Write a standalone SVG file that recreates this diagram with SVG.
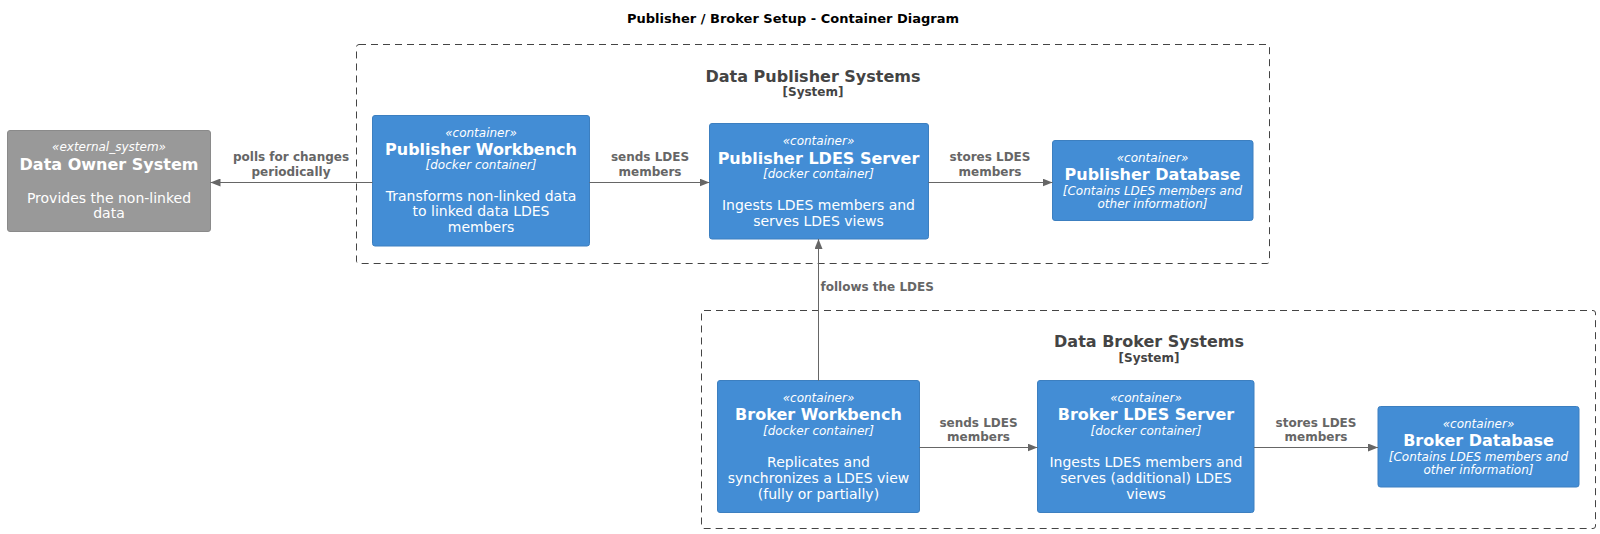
<svg xmlns="http://www.w3.org/2000/svg" width="1600" height="534" viewBox="0 0 1600 534">
<defs>
<marker id="arr" viewBox="0 0 10 8" refX="10" refY="4" markerWidth="10" markerHeight="8" markerUnits="userSpaceOnUse" orient="auto">
<path d="M0,0 L10,4 L0,8 Z" fill="#666666"/>
</marker>
<style>
text{font-family:"DejaVu Sans","Noto Sans",sans-serif;text-anchor:middle}
.title{font-size:13px;font-weight:bold;fill:#000}
.bnd{fill:none;stroke:#444444;stroke-width:1;stroke-dasharray:7,5}
.bt{font-size:16px;font-weight:bold;fill:#444444}
.bs{font-size:12px;font-weight:bold;fill:#444444}
.cont{fill:#438DD5;stroke:#3C7FC0;stroke-width:1}
.ext{fill:#999999;stroke:#8A8A8A;stroke-width:1}
.st{font-size:12px;font-style:italic;fill:#FFFFFF}
.nm{font-size:16px;font-weight:bold;fill:#FFFFFF}
.ds{font-size:14px;fill:#FFFFFF}
.tc{font-size:12px;font-style:italic;fill:#FFFFFF}
.edge{stroke:#666666;stroke-width:1;fill:none;marker-end:url(#arr)}
.el{font-size:12px;font-weight:bold;fill:#666666}
</style>
</defs>
<rect width="1600" height="534" fill="#FFFFFF"/>
<text class="title" x="793" y="23">Publisher / Broker Setup - Container Diagram</text>

<g id="publisher_systems">
<rect class="bnd" x="356.5" y="44.5" width="913" height="219" rx="2.5"/>
<text class="bt" x="813" y="82">Data Publisher Systems</text>
<text class="bs" x="813" y="96">[System]</text>
</g>

<g id="broker_systems">
<rect class="bnd" x="701.5" y="310.5" width="894" height="218" rx="2.5"/>
<text class="bt" x="1149" y="347">Data Broker Systems</text>
<text class="bs" x="1149" y="362">[System]</text>
</g>

<g id="data_owner">
<rect class="ext" x="7.5" y="130.5" width="203" height="101" rx="2.5"/>
<text class="st" x="109" y="151">«external_system»</text>
<text class="nm" x="109" y="169.5">Data Owner System</text>
<text class="ds" x="109" y="202.5">Provides the non-linked</text>
<text class="ds" x="109" y="218">data</text>
</g>

<g id="publisher_workbench">
<rect class="cont" x="372.5" y="115.5" width="217" height="130.5" rx="2.5"/>
<text class="st" x="481" y="136.5">«container»</text>
<text class="nm" x="481" y="154.5">Publisher Workbench</text>
<text class="tc" x="481" y="168.5">[docker container]</text>
<text class="ds" x="481" y="200.5">Transforms non-linked data</text>
<text class="ds" x="481" y="216">to linked data LDES</text>
<text class="ds" x="481" y="232">members</text>
</g>

<g id="publisher_ldes_server">
<rect class="cont" x="709.5" y="123.5" width="219" height="115.5" rx="2.5"/>
<text class="st" x="818.5" y="144.5">«container»</text>
<text class="nm" x="818.5" y="163.5">Publisher LDES Server</text>
<text class="tc" x="818.5" y="178">[docker container]</text>
<text class="ds" x="818.5" y="210">Ingests LDES members and</text>
<text class="ds" x="818.5" y="226">serves LDES views</text>
</g>

<g id="publisher_database">
<rect class="cont" x="1052.5" y="140.5" width="200.5" height="80" rx="2.5"/>
<text class="st" x="1152.5" y="162">«container»</text>
<text class="nm" x="1152.5" y="180">Publisher Database</text>
<text class="tc" x="1152.5" y="195">[Contains LDES members and</text>
<text class="tc" x="1152.5" y="207.5">other information]</text>
</g>

<g id="broker_workbench">
<rect class="cont" x="717.5" y="380.5" width="202" height="132" rx="2.5"/>
<text class="st" x="818.5" y="402">«container»</text>
<text class="nm" x="818.5" y="420">Broker Workbench</text>
<text class="tc" x="818.5" y="434.5">[docker container]</text>
<text class="ds" x="818.5" y="467">Replicates and</text>
<text class="ds" x="818.5" y="482.5">synchronizes a LDES view</text>
<text class="ds" x="818.5" y="499">(fully or partially)</text>
</g>

<g id="broker_ldes_server">
<rect class="cont" x="1037.5" y="380.5" width="216.5" height="132" rx="2.5"/>
<text class="st" x="1146" y="402">«container»</text>
<text class="nm" x="1146" y="420">Broker LDES Server</text>
<text class="tc" x="1146" y="434.5">[docker container]</text>
<text class="ds" x="1146" y="467">Ingests LDES members and</text>
<text class="ds" x="1146" y="482.5">serves (additional) LDES</text>
<text class="ds" x="1146" y="499">views</text>
</g>

<g id="broker_database">
<rect class="cont" x="1378" y="406.5" width="201" height="80.5" rx="2.5"/>
<text class="st" x="1478.5" y="427.5">«container»</text>
<text class="nm" x="1478.5" y="445.5">Broker Database</text>
<text class="tc" x="1478.5" y="460.5">[Contains LDES members and</text>
<text class="tc" x="1478.5" y="473.5">other information]</text>
</g>

<g id="connectors">
<line class="edge" x1="372.5" y1="182.5" x2="210.5" y2="182.5"/>
<text class="el" x="291" y="161">polls for changes</text>
<text class="el" x="291" y="175.5">periodically</text>

<line class="edge" x1="589.5" y1="182.5" x2="709.5" y2="182.5"/>
<text class="el" x="650" y="161">sends LDES</text>
<text class="el" x="650" y="175.5">members</text>

<line class="edge" x1="928.5" y1="182.5" x2="1052.5" y2="182.5"/>
<text class="el" x="990" y="161">stores LDES</text>
<text class="el" x="990" y="175.5">members</text>

<line class="edge" x1="818.5" y1="380.5" x2="818.5" y2="239"/>
<text class="el" x="820.5" y="291" style="text-anchor:start">follows the LDES</text>

<line class="edge" x1="919.5" y1="447.5" x2="1037.5" y2="447.5"/>
<text class="el" x="978.5" y="426.5">sends LDES</text>
<text class="el" x="978.5" y="441">members</text>

<line class="edge" x1="1254" y1="447.5" x2="1378" y2="447.5"/>
<text class="el" x="1316" y="426.5">stores LDES</text>
<text class="el" x="1316" y="441">members</text>
</g>
</svg>
